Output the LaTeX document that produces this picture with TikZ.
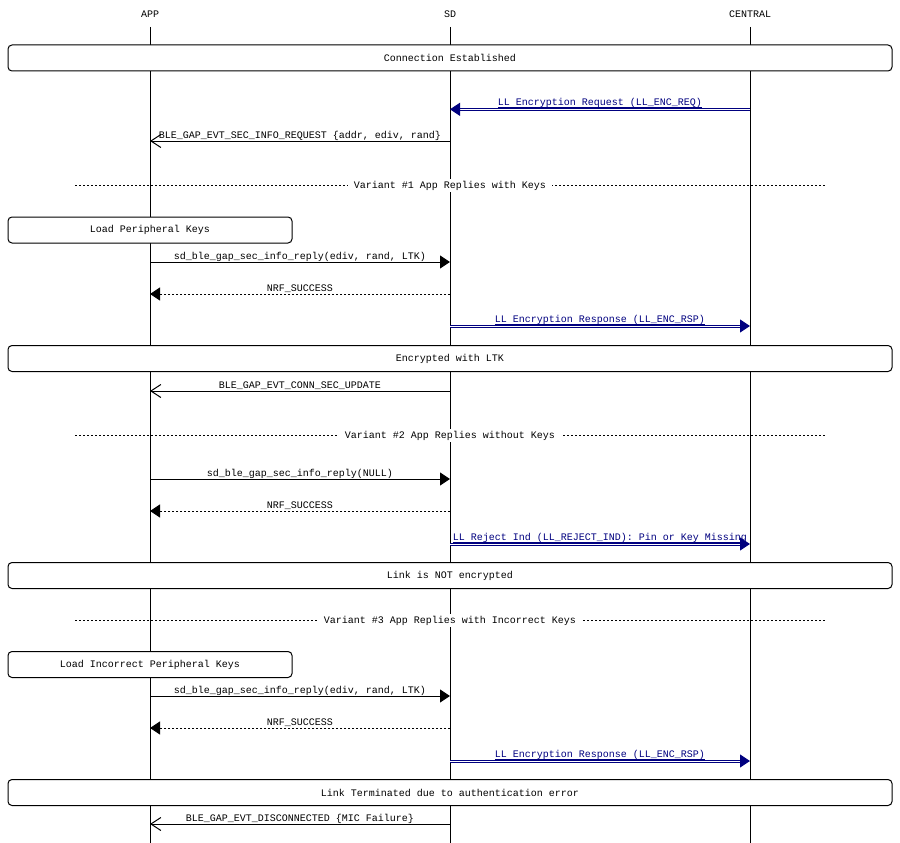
\documentclass[tikz,border=0pt]{standalone}
\usepackage{fontspec}
\setmainfont{Liberation Mono}
\usetikzlibrary{arrows.meta}
\definecolor{msgblue}{HTML}{00007F}
\begin{document}
\begin{tikzpicture}[x=1pt,y=-1pt,
  font=\fontsize{10}{12}\selectfont,
  every node/.style={inner sep=0pt},
  head/.style={anchor=base},
  lifeline/.style={line width=1pt},
  box/.style={draw, fill=white, rounded corners=4pt, line width=1pt,
    minimum height=26pt},
  wide/.style={box, minimum width=884pt},
  narrow/.style={box, minimum width=284pt},
  call/.style={line width=1pt, -{Triangle[length=10pt,width=13pt]}},
  reply/.style={line width=1pt, dash pattern=on 2pt off 2pt,
    -{Triangle[length=10pt,width=13pt]}},
  event/.style={line width=1pt, -{Straight Barb[length=10pt,width=13pt]}},
  air/.style={draw=msgblue, line width=1pt, double=white, double distance=1pt,
    -{Triangle[length=10pt,width=13pt]}},
  lbl/.style={midway, anchor=base, yshift=2.3pt},
  bluelbl/.style={midway, anchor=base, yshift=3.3pt, text=msgblue},
  divider/.style={line width=1pt, dash pattern=on 2pt off 2pt},
  divlbl/.style={fill=white, inner xsep=6pt, inner ysep=2pt}
]
\useasboundingbox (0,0) rectangle (900,843);

% entity headers
\node[head] (app) at (150,18) {APP};
\node[head] (sd) at (450,18) {SD};
\node[head] (central) at (750,18) {CENTRAL};

% lifelines
\draw[lifeline] (app |- 0,27) -- (app |- 0,843);
\draw[lifeline] (sd |- 0,27) -- (sd |- 0,843);
\draw[lifeline] (central |- 0,27) -- (central |- 0,843);

% connection set-up
\node[wide] (conn) at (450,58) {Connection Established};
\draw[air] (central |- 0,109.3) -- node[bluelbl] {\underline{\smash{LL Encryption Request (LL\_ENC\_REQ)}}} (sd |- 0,109.3);
\draw[event] (sd |- 0,141) -- node[lbl] {BLE\_GAP\_EVT\_SEC\_INFO\_REQUEST \{addr, ediv, rand\}} (app |- 0,141);

% variant 1
\draw[divider] (75,185) -- (825,185);
\node[divlbl] (v1) at (450,185.5) {Variant \#1 App Replies with Keys};
\node[narrow] (keys1) at (150,230) {Load Peripheral Keys};
\draw[call] (app |- 0,262) -- node[lbl] {sd\_ble\_gap\_sec\_info\_reply(ediv, rand, LTK)} (sd |- 0,262);
\draw[reply] (sd |- 0,294) -- node[lbl] {NRF\_SUCCESS} (app |- 0,294);
\draw[air] (sd |- 0,326) -- node[bluelbl] {\underline{\smash{LL Encryption Response (LL\_ENC\_RSP)}}} (central |- 0,326);
\node[wide] (enc) at (450,358.5) {Encrypted with LTK};
\draw[event] (sd |- 0,391) -- node[lbl] {BLE\_GAP\_EVT\_CONN\_SEC\_UPDATE} (app |- 0,391);

% variant 2
\draw[divider] (75,435) -- (825,435);
\node[divlbl] (v2) at (450,435.5) {Variant \#2 App Replies without Keys};
\draw[call] (app |- 0,479) -- node[lbl] {sd\_ble\_gap\_sec\_info\_reply(NULL)} (sd |- 0,479);
\draw[reply] (sd |- 0,511) -- node[lbl] {NRF\_SUCCESS} (app |- 0,511);
\draw[air] (sd |- 0,544) -- node[bluelbl] {\underline{\smash{LL Reject Ind (LL\_REJECT\_IND): Pin or Key Missing}}} (central |- 0,544);
\node[wide] (noenc) at (450,575.5) {Link is NOT encrypted};

% variant 3
\draw[divider] (75,620) -- (825,620);
\node[divlbl] (v3) at (450,620.5) {Variant \#3 App Replies with Incorrect Keys};
\node[narrow] (keys3) at (150,664.5) {Load Incorrect Peripheral Keys};
\draw[call] (app |- 0,696) -- node[lbl] {sd\_ble\_gap\_sec\_info\_reply(ediv, rand, LTK)} (sd |- 0,696);
\draw[reply] (sd |- 0,728) -- node[lbl] {NRF\_SUCCESS} (app |- 0,728);
\draw[air] (sd |- 0,761) -- node[bluelbl] {\underline{\smash{LL Encryption Response (LL\_ENC\_RSP)}}} (central |- 0,761);
\node[wide] (term) at (450,792.5) {Link Terminated due to authentication error};
\draw[event] (sd |- 0,824) -- node[lbl] {BLE\_GAP\_EVT\_DISCONNECTED \{MIC Failure\}} (app |- 0,824);
\end{tikzpicture}
\end{document}
